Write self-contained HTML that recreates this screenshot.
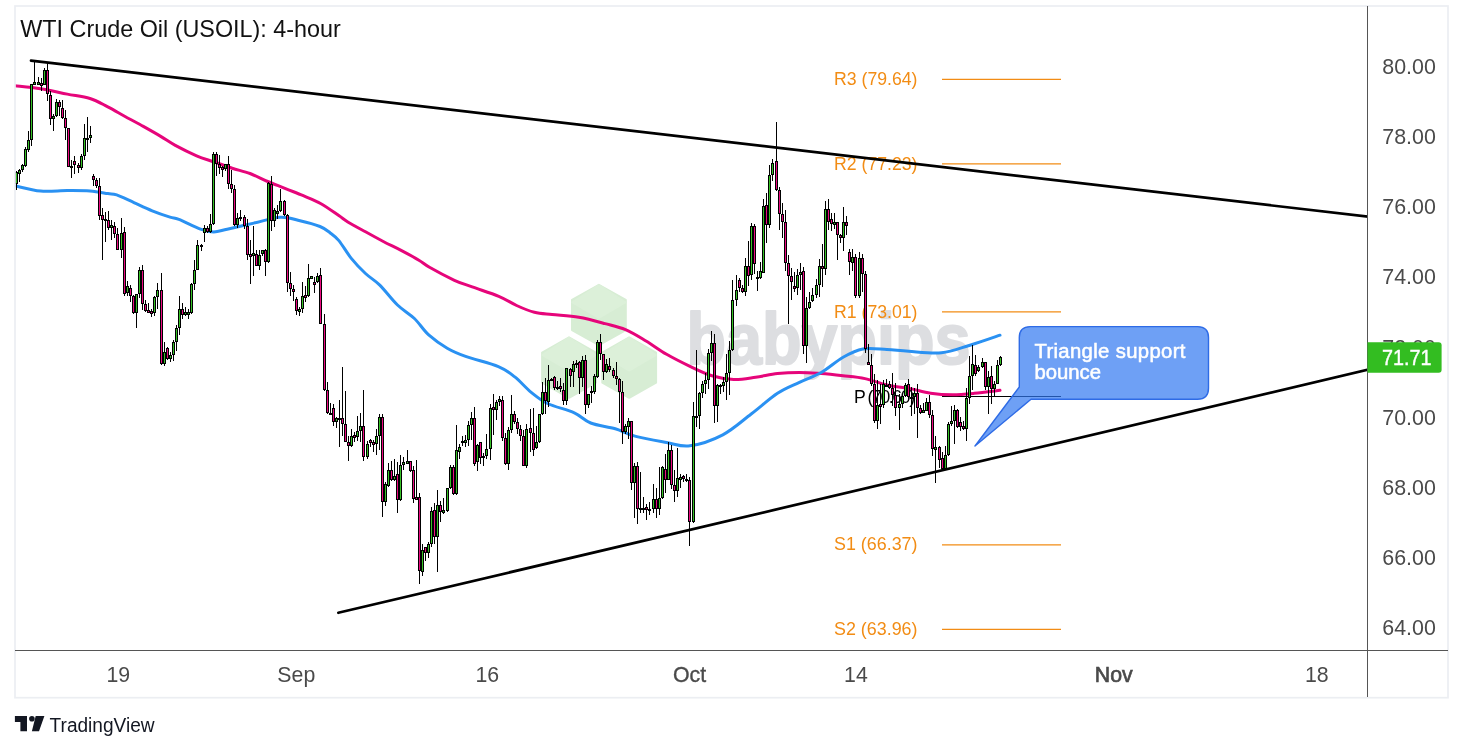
<!DOCTYPE html><html><head><meta charset="utf-8"><title>WTI Crude Oil</title>
<style>html,body{margin:0;padding:0;background:#fff;width:1463px;height:751px;overflow:hidden}svg{display:block;will-change:transform}text{font-family:"Liberation Sans",sans-serif}</style></head><body>
<svg width="1463" height="751" viewBox="0 0 1463 751">
<rect x="0" y="0" width="1463" height="751" fill="#fff"/>
<defs><clipPath id="pane"><rect x="15" y="6" width="1352.5" height="644.5"/></clipPath></defs>
<g>
<path d="M598.9,284.8 L625.8,299.9 L625.8,330.1 L598.9,345.2 L572.0,330.1 L572.0,299.9 Z" fill="#D7EDD4" stroke="#D7EDD4" stroke-width="2" stroke-linejoin="round"/>
<path d="M598.9,284.8 L625.8,302.4 L598.9,318.2 L572.0,302.4 Z" fill="#DCF0D9" stroke="#DCF0D9" stroke-width="1.5" stroke-linejoin="round"/>
<path d="M569.0,337.4 L595.9,352.5 L595.9,382.7 L569.0,397.8 L542.1,382.7 L542.1,352.5 Z" fill="#D7EDD4" stroke="#D7EDD4" stroke-width="2" stroke-linejoin="round"/>
<path d="M569.0,337.4 L595.9,355.0 L569.0,370.8 L542.1,355.0 Z" fill="#DCF0D9" stroke="#DCF0D9" stroke-width="1.5" stroke-linejoin="round"/>
<path d="M629.2,337.4 L656.1,352.5 L656.1,382.7 L629.2,397.8 L602.3,382.7 L602.3,352.5 Z" fill="#D7EDD4" stroke="#D7EDD4" stroke-width="2" stroke-linejoin="round"/>
<path d="M629.2,337.4 L656.1,355.0 L629.2,370.8 L602.3,355.0 Z" fill="#DCF0D9" stroke="#DCF0D9" stroke-width="1.5" stroke-linejoin="round"/>
</g>
<text x="686.5" y="364.3" font-size="72.5" font-weight="700" fill="#DDDEE1" stroke="#DDDEE1" stroke-width="2" stroke-linejoin="round" textLength="284" lengthAdjust="spacingAndGlyphs">babypips</text>
<text x="20.3" y="36.8" font-size="24.3" fill="#111" textLength="320.5" lengthAdjust="spacingAndGlyphs">WTI Crude Oil (USOIL): 4-hour</text>
<line x1="942" y1="79.4" x2="1061" y2="79.4" stroke="#F28C14" stroke-width="1.2"/>
<text x="834" y="85.0" font-size="17.8" fill="#F28C14" textLength="83.5" lengthAdjust="spacingAndGlyphs">R3 (79.64)</text>
<line x1="942" y1="163.9" x2="1061" y2="163.9" stroke="#F28C14" stroke-width="1.2"/>
<text x="834" y="169.5" font-size="17.8" fill="#F28C14" textLength="83.5" lengthAdjust="spacingAndGlyphs">R2 (77.23)</text>
<line x1="942" y1="311.9" x2="1061" y2="311.9" stroke="#F28C14" stroke-width="1.2"/>
<text x="834" y="317.5" font-size="17.8" fill="#F28C14" textLength="83.5" lengthAdjust="spacingAndGlyphs">R1 (73.01)</text>
<line x1="942" y1="396.5" x2="1061" y2="396.5" stroke="#000" stroke-width="1.2"/>
<text x="854" y="402.7" font-size="17.6" fill="#000" textLength="61" lengthAdjust="spacing">P (70.60)</text>
<line x1="942" y1="544.8" x2="1061" y2="544.8" stroke="#F28C14" stroke-width="1.2"/>
<text x="834" y="550.4" font-size="17.8" fill="#F28C14" textLength="83.5" lengthAdjust="spacingAndGlyphs">S1 (66.37)</text>
<line x1="942" y1="629.3" x2="1061" y2="629.3" stroke="#F28C14" stroke-width="1.2"/>
<text x="834" y="634.9" font-size="17.8" fill="#F28C14" textLength="83.5" lengthAdjust="spacingAndGlyphs">S2 (63.96)</text>
<g clip-path="url(#pane)" fill="none" stroke-linecap="round" stroke-linejoin="round">
<path d="M15.0,85.8 C19.3,86.3 31.9,87.4 40.6,88.8 C49.3,90.2 59.1,92.5 67.3,94.1 C75.5,95.7 83.2,96.4 90.0,98.5 C96.8,100.6 101.9,103.9 107.8,106.9 C113.7,109.9 119.6,113.5 125.5,116.7 C131.4,120.0 137.4,123.1 143.3,126.4 C149.2,129.7 155.8,133.4 161.1,136.6 C166.4,139.8 169.4,142.2 175.3,145.4 C181.2,148.6 190.1,153.0 196.6,155.8 C203.1,158.6 208.5,159.9 214.4,162.0 C220.3,164.1 226.3,166.3 232.2,168.2 C238.1,170.1 244.1,171.3 250.0,173.5 C255.9,175.7 261.8,179.0 267.7,181.5 C273.6,184.0 279.6,186.2 285.5,188.6 C291.4,191.0 297.4,193.2 303.3,195.7 C309.2,198.2 315.1,200.4 321.0,203.7 C326.9,207.0 334.3,212.5 338.8,215.6 C343.3,218.7 343.4,219.3 347.8,222.0 C352.2,224.7 359.6,228.6 365.5,231.8 C371.4,235.1 377.4,238.4 383.3,241.5 C389.2,244.6 395.2,247.3 401.1,250.4 C407.0,253.5 414.2,257.4 418.9,260.2 C423.6,263.0 423.6,263.9 429.5,267.3 C435.4,270.7 447.3,277.0 454.4,280.3 C461.5,283.6 464.8,284.2 472.2,286.9 C479.6,289.6 491.4,293.2 498.8,296.3 C506.2,299.4 510.7,302.8 516.6,305.5 C522.5,308.2 528.5,310.8 534.4,312.3 C540.3,313.8 544.7,313.8 552.1,314.6 C559.5,315.4 570.0,315.8 578.8,317.3 C587.6,318.8 597.2,321.5 605.0,323.6 C612.8,325.7 618.7,326.8 625.5,329.7 C632.3,332.6 639.1,336.9 646.0,341.0 C652.9,345.1 659.3,350.1 666.6,354.3 C673.9,358.5 682.5,362.8 690.0,366.4 C697.5,370.0 704.6,373.6 711.9,375.8 C719.2,378.0 726.4,379.2 733.7,379.5 C741.0,379.8 748.3,378.3 755.6,377.3 C762.9,376.3 770.2,374.4 777.5,373.6 C784.8,372.8 792.1,372.5 799.4,372.5 C806.7,372.5 813.9,373.1 821.2,373.6 C828.5,374.2 835.8,375.0 843.1,375.8 C850.4,376.6 857.7,377.1 865.0,378.6 C872.3,380.1 879.6,383.4 886.9,385.0 C894.2,386.6 901.4,387.0 908.7,388.4 C916.0,389.8 923.3,392.1 930.6,393.2 C937.9,394.3 945.2,394.8 952.5,394.8 C959.8,394.8 966.4,394.1 974.3,393.3 C982.2,392.6 995.7,390.8 1000.0,390.3" stroke="#E6057A" stroke-width="3"/>
<path d="M15.0,185.8 C19.3,186.7 31.9,190.3 40.6,191.1 C49.3,191.9 59.1,190.6 67.3,190.6 C75.5,190.6 83.2,190.5 90.0,191.0 C96.8,191.5 103.3,192.9 107.8,193.6 C112.2,194.2 112.3,193.4 116.7,194.9 C121.1,196.4 128.5,200.2 134.4,202.8 C140.3,205.5 146.3,208.4 152.2,210.8 C158.1,213.2 165.6,215.7 170.0,217.1 C174.4,218.5 173.8,217.4 178.9,219.4 C184.0,221.4 194.7,227.1 200.5,229.2 C206.3,231.3 209.4,231.9 213.8,231.9 C218.2,231.9 220.5,230.7 227.2,229.2 C233.9,227.7 244.9,225.1 253.8,223.1 C262.7,221.1 272.8,217.6 280.5,217.2 C288.2,216.8 293.4,219.1 300.0,220.7 C306.6,222.2 315.0,224.5 320.0,226.5 C325.0,228.5 326.9,230.3 330.0,232.7 C333.1,235.0 335.3,236.3 338.9,240.6 C342.4,244.9 346.9,252.9 351.3,258.4 C355.7,263.9 360.8,269.1 365.5,273.5 C370.2,277.9 374.5,279.9 379.8,285.1 C385.1,290.4 391.7,299.4 397.5,305.0 C403.3,310.6 409.2,313.5 414.4,318.5 C419.6,323.5 423.2,329.9 428.7,334.9 C434.2,339.8 441.0,344.6 447.2,348.2 C453.4,351.8 457.1,353.3 465.6,356.4 C474.1,359.5 490.2,363.2 498.4,366.6 C506.6,370.0 509.3,372.6 514.8,376.9 C520.3,381.2 525.7,387.9 531.2,392.3 C536.7,396.7 540.4,400.1 547.6,403.5 C554.8,406.9 567.1,409.6 574.3,412.8 C581.5,416.1 583.9,420.3 590.7,423.0 C597.5,425.7 607.8,426.6 615.3,428.8 C622.8,431.0 627.2,434.1 635.8,436.4 C644.3,438.7 657.6,440.9 666.6,442.5 C675.6,444.1 680.6,447.1 690.0,445.8 C699.4,444.5 712.6,440.1 722.8,434.8 C733.0,429.5 742.1,420.9 751.2,414.0 C760.3,407.1 769.5,398.6 777.5,393.3 C785.5,388.0 792.1,385.8 799.4,382.3 C806.7,378.8 813.9,376.7 821.2,372.5 C828.5,368.3 836.2,361.1 843.1,357.2 C850.0,353.3 855.5,350.2 862.8,348.9 C870.1,347.6 879.2,349.1 886.9,349.5 C894.5,349.9 899.6,350.8 908.7,351.3 C917.8,351.9 931.3,353.8 941.5,352.8 C951.7,351.8 960.2,348.1 970.0,345.2 C979.8,342.3 995.0,336.9 1000.0,335.2" stroke="#2A91F2" stroke-width="3"/>
</g>
<g shape-rendering="crispEdges">
<path d="M16.5,171V190M19.5,169V182M22.5,164V172M25.5,147V167M28.5,131V152M31.5,84V146M34.5,62V85M38.5,77V85M41.5,78V91M44.5,68V85M47.5,63V101M50.5,91V125M53.5,114V131M56.5,99V117M59.5,100V116M62.5,100V119M65.5,110V140M68.5,128V167M71.5,160V178M74.5,156V174M78.5,163V173M81.5,154V170M84.5,124V160M87.5,117V152M90.5,126V143M93.5,174V186M96.5,178V188M99.5,178V220M102.5,208V260M105.5,212V242M108.5,211V230M111.5,220V240M114.5,222V238M117.5,228V250M121.5,218V258M124.5,227V296M127.5,281V296M130.5,285V302M133.5,295V314M136.5,294V328M139.5,267V298M142.5,265V310M145.5,300V312M148.5,303V313M151.5,309V317M154.5,296V316M157.5,283V309M161.5,273V365M164.5,342V366M167.5,347V360M170.5,352V362M173.5,340V361M176.5,325V351M179.5,296V335M182.5,303V319M185.5,307V316M188.5,309V319M191.5,283V314M194.5,260V290M197.5,240V270M201.5,244V251M204.5,225V242M207.5,226V233M210.5,214V233M213.5,152V225M216.5,152V176M219.5,155V174M222.5,166V177M225.5,164V171M228.5,156V189M231.5,170V193M234.5,185V226M237.5,213V228M240.5,210V221M244.5,215V229M247.5,219V260M250.5,240V284M253.5,226V276M256.5,250V266M259.5,250V270M262.5,250V256M265.5,249V276M268.5,182V263M271.5,176V231M274.5,208V227M277.5,205V219M280.5,189V212M284.5,200V216M287.5,214V292M290.5,272V296M293.5,285V301M296.5,297V315M299.5,307V316M302.5,282V313M305.5,286V302M308.5,264V297M311.5,276V279M314.5,277V293M317.5,273V283M320.5,268V324M324.5,314V391M327.5,382V414M330.5,403V414M333.5,404V426M336.5,417V428M339.5,400V447M342.5,367V436M345.5,391V442M348.5,436V461M351.5,429V447M354.5,432V442M357.5,416V441M360.5,413V442M363.5,390V461M367.5,441V459M370.5,439V447M373.5,440V452M376.5,429V455M379.5,414V450M382.5,414V517M385.5,482V506M388.5,463V487M391.5,461V481M394.5,459V481M397.5,462V513M400.5,455V501M403.5,457V470M407.5,450V464M410.5,461V472M413.5,466V503M416.5,460V500M419.5,493V584M422.5,544V576M425.5,547V561M428.5,542V558M431.5,507V547M434.5,503V544M437.5,490V572M440.5,501V522M443.5,498V514M447.5,488V512M450.5,465V489M453.5,465V495M456.5,425V495M459.5,444V459M462.5,436V446M465.5,435V447M468.5,421V446M471.5,412V440M474.5,407V466M477.5,444V471M480.5,442V464M483.5,453V466M486.5,434V459M490.5,404V460M493.5,394V435M496.5,400V420M499.5,396V406M502.5,396V441M505.5,433V465M508.5,427V470M511.5,395V433M514.5,411V424M517.5,418V434M520.5,425V441M523.5,430V466M526.5,424V468M530.5,409V452M533.5,408V456M536.5,426V449M539.5,414V443M542.5,382V415M545.5,378V414M548.5,365V407M551.5,378V381M554.5,376V390M557.5,381V390M560.5,378V392M563.5,383V405M566.5,368V405M570.5,368V387M573.5,361V387M576.5,360V368M579.5,361V394M582.5,356V387M585.5,355V414M588.5,394V408M591.5,386V403M594.5,374V394M597.5,340V378M600.5,334V360M603.5,354V380M606.5,359V373M609.5,358V372M613.5,368V378M616.5,362V385M619.5,378V423M622.5,381V444M625.5,424V434M628.5,418V439M631.5,421V490M634.5,463V518M637.5,462V524M640.5,472V513M643.5,497V513M646.5,504V520M649.5,502V515M653.5,484V513M656.5,488V518M659.5,467V515M662.5,466V499M665.5,454V493M668.5,442V480M671.5,445V489M674.5,470V502M677.5,448V497M680.5,474V488M683.5,475V482M686.5,474V482M689.5,477V546M693.5,402V523M696.5,350V427M699.5,392V429M702.5,381V398M705.5,373V394M708.5,349V389M711.5,331V361M714.5,334V423M717.5,384V422M720.5,384V394M723.5,377V392M726.5,354V400M729.5,341V395M732.5,280V351M736.5,275V306M739.5,278V292M742.5,285V293M745.5,258V296M748.5,241V286M751.5,223V280M754.5,224V274M757.5,271V291M760.5,262V279M763.5,199V273M766.5,193V243M769.5,165V228M772.5,159V181M776.5,122V191M779.5,187V230M782.5,203V238M785.5,210V271M788.5,255V324M791.5,268V300M794.5,272V292M797.5,269V295M800.5,263V290M803.5,267V354M806.5,297V363M809.5,292V309M812.5,288V302M816.5,279V298M819.5,259V297M822.5,244V287M825.5,201V275M828.5,199V230M831.5,213V231M834.5,213V229M837.5,222V260M840.5,234V243M843.5,207V251M846.5,216V235M849.5,249V275M852.5,249V271M855.5,254V298M859.5,252V298M862.5,254V292M865.5,271V353M868.5,344V365M871.5,354V386M874.5,374V423M877.5,380V429M880.5,384V424M883.5,380V408M886.5,379V387M889.5,381V389M892.5,373V406M895.5,383V416M899.5,394V430M902.5,395V408M905.5,383V397M908.5,379V399M911.5,387V416M914.5,388V414M917.5,384V438M920.5,405V414M923.5,403V412M926.5,398V411M929.5,395V418M932.5,410V456M935.5,436V483M939.5,446V468M942.5,452V471M945.5,446V470M948.5,422V456M951.5,406V426M954.5,405V444M957.5,409V428M960.5,417V431M963.5,421V430M966.5,388V441M969.5,356V404M972.5,345V390M975.5,355V376M978.5,365V372M982.5,358V368M985.5,362V390M988.5,371V414M991.5,366V404M994.5,381V396M997.5,360V384M1000.5,356V366" stroke="#000" stroke-width="1" fill="none"/>
<g fill="#000"><rect x="15" y="172" width="3" height="12"/><rect x="18" y="170" width="3" height="4"/><rect x="21" y="165" width="3" height="5"/><rect x="24" y="149" width="3" height="17"/><rect x="27" y="140" width="3" height="10"/><rect x="30" y="84" width="3" height="56"/><rect x="33" y="82" width="3" height="3"/><rect x="37" y="82" width="3" height="3"/><rect x="40" y="83" width="3" height="3"/><rect x="43" y="70" width="3" height="15"/><rect x="46" y="70" width="3" height="24"/><rect x="49" y="95" width="3" height="24"/><rect x="52" y="116" width="3" height="3"/><rect x="55" y="102" width="3" height="14"/><rect x="58" y="102" width="3" height="5"/><rect x="61" y="108" width="3" height="10"/><rect x="64" y="118" width="3" height="10"/><rect x="67" y="128" width="3" height="39"/><rect x="70" y="166" width="3" height="2"/><rect x="73" y="161" width="3" height="4"/><rect x="77" y="165" width="3" height="3"/><rect x="80" y="156" width="3" height="12"/><rect x="83" y="138" width="3" height="18"/><rect x="86" y="138" width="3" height="2"/><rect x="89" y="135" width="3" height="3"/><rect x="92" y="176" width="3" height="4"/><rect x="95" y="180" width="3" height="6"/><rect x="98" y="186" width="3" height="30"/><rect x="101" y="215" width="3" height="5"/><rect x="104" y="219" width="3" height="2"/><rect x="107" y="220" width="3" height="8"/><rect x="110" y="225" width="3" height="3"/><rect x="113" y="226" width="3" height="8"/><rect x="116" y="234" width="3" height="16"/><rect x="120" y="233" width="3" height="17"/><rect x="123" y="232" width="3" height="62"/><rect x="126" y="286" width="3" height="7"/><rect x="129" y="288" width="3" height="8"/><rect x="132" y="296" width="3" height="17"/><rect x="135" y="294" width="3" height="19"/><rect x="138" y="270" width="3" height="24"/><rect x="141" y="270" width="3" height="34"/><rect x="144" y="304" width="3" height="7"/><rect x="147" y="310" width="3" height="3"/><rect x="150" y="311" width="3" height="3"/><rect x="153" y="297" width="3" height="16"/><rect x="156" y="290" width="3" height="7"/><rect x="160" y="290" width="3" height="74"/><rect x="163" y="352" width="3" height="12"/><rect x="166" y="348" width="3" height="11"/><rect x="169" y="355" width="3" height="4"/><rect x="172" y="342" width="3" height="13"/><rect x="175" y="328" width="3" height="14"/><rect x="178" y="309" width="3" height="19"/><rect x="181" y="309" width="3" height="6"/><rect x="184" y="312" width="3" height="3"/><rect x="187" y="312" width="3" height="3"/><rect x="190" y="284" width="3" height="29"/><rect x="193" y="270" width="3" height="14"/><rect x="196" y="245" width="3" height="25"/><rect x="200" y="245" width="3" height="2"/><rect x="203" y="228" width="3" height="5"/><rect x="206" y="228" width="3" height="4"/><rect x="209" y="224" width="3" height="8"/><rect x="212" y="154" width="3" height="70"/><rect x="215" y="154" width="3" height="10"/><rect x="218" y="164" width="3" height="4"/><rect x="221" y="167" width="3" height="3"/><rect x="224" y="164" width="3" height="5"/><rect x="227" y="164" width="3" height="20"/><rect x="230" y="184" width="3" height="5"/><rect x="233" y="189" width="3" height="36"/><rect x="236" y="218" width="3" height="7"/><rect x="239" y="217" width="3" height="2"/><rect x="243" y="217" width="3" height="9"/><rect x="246" y="226" width="3" height="29"/><rect x="249" y="254" width="3" height="3"/><rect x="252" y="253" width="3" height="3"/><rect x="255" y="254" width="3" height="12"/><rect x="258" y="255" width="3" height="11"/><rect x="261" y="250" width="3" height="4"/><rect x="264" y="250" width="3" height="12"/><rect x="267" y="183" width="3" height="79"/><rect x="270" y="184" width="3" height="37"/><rect x="273" y="210" width="3" height="11"/><rect x="276" y="211" width="3" height="3"/><rect x="279" y="201" width="3" height="10"/><rect x="283" y="201" width="3" height="14"/><rect x="286" y="215" width="3" height="68"/><rect x="289" y="283" width="3" height="6"/><rect x="292" y="289" width="3" height="3"/><rect x="295" y="299" width="3" height="12"/><rect x="298" y="309" width="3" height="3"/><rect x="301" y="296" width="3" height="13"/><rect x="304" y="295" width="3" height="3"/><rect x="307" y="278" width="3" height="18"/><rect x="310" y="276" width="3" height="3"/><rect x="313" y="282" width="3" height="3"/><rect x="316" y="276" width="3" height="6"/><rect x="319" y="275" width="3" height="49"/><rect x="323" y="324" width="3" height="66"/><rect x="326" y="390" width="3" height="23"/><rect x="329" y="413" width="3" height="2"/><rect x="332" y="408" width="3" height="14"/><rect x="335" y="418" width="3" height="4"/><rect x="338" y="418" width="3" height="2"/><rect x="341" y="418" width="3" height="6"/><rect x="344" y="424" width="3" height="18"/><rect x="347" y="442" width="3" height="4"/><rect x="350" y="436" width="3" height="10"/><rect x="353" y="435" width="3" height="3"/><rect x="356" y="431" width="3" height="6"/><rect x="359" y="426" width="3" height="5"/><rect x="362" y="426" width="3" height="31"/><rect x="366" y="444" width="3" height="13"/><rect x="369" y="440" width="3" height="3"/><rect x="372" y="442" width="3" height="3"/><rect x="375" y="436" width="3" height="8"/><rect x="378" y="417" width="3" height="19"/><rect x="381" y="417" width="3" height="85"/><rect x="384" y="484" width="3" height="18"/><rect x="387" y="470" width="3" height="16"/><rect x="390" y="470" width="3" height="10"/><rect x="393" y="476" width="3" height="4"/><rect x="396" y="474" width="3" height="26"/><rect x="399" y="465" width="3" height="35"/><rect x="402" y="462" width="3" height="3"/><rect x="406" y="461" width="3" height="3"/><rect x="409" y="461" width="3" height="10"/><rect x="412" y="470" width="3" height="29"/><rect x="415" y="497" width="3" height="3"/><rect x="418" y="497" width="3" height="74"/><rect x="421" y="550" width="3" height="22"/><rect x="424" y="547" width="3" height="6"/><rect x="427" y="544" width="3" height="9"/><rect x="430" y="511" width="3" height="33"/><rect x="433" y="510" width="3" height="27"/><rect x="436" y="505" width="3" height="32"/><rect x="439" y="505" width="3" height="7"/><rect x="442" y="510" width="3" height="3"/><rect x="446" y="488" width="3" height="23"/><rect x="449" y="467" width="3" height="21"/><rect x="452" y="467" width="3" height="27"/><rect x="455" y="450" width="3" height="44"/><rect x="458" y="447" width="3" height="5"/><rect x="461" y="441" width="3" height="2"/><rect x="464" y="440" width="3" height="3"/><rect x="467" y="425" width="3" height="15"/><rect x="470" y="418" width="3" height="7"/><rect x="473" y="418" width="3" height="46"/><rect x="476" y="445" width="3" height="17"/><rect x="479" y="442" width="3" height="16"/><rect x="482" y="456" width="3" height="2"/><rect x="485" y="449" width="3" height="7"/><rect x="489" y="408" width="3" height="41"/><rect x="492" y="407" width="3" height="3"/><rect x="495" y="402" width="3" height="8"/><rect x="498" y="399" width="3" height="3"/><rect x="501" y="400" width="3" height="38"/><rect x="504" y="438" width="3" height="26"/><rect x="507" y="430" width="3" height="34"/><rect x="510" y="414" width="3" height="16"/><rect x="513" y="414" width="3" height="8"/><rect x="516" y="422" width="3" height="7"/><rect x="519" y="429" width="3" height="7"/><rect x="522" y="436" width="3" height="30"/><rect x="525" y="429" width="3" height="37"/><rect x="529" y="428" width="3" height="5"/><rect x="532" y="433" width="3" height="17"/><rect x="535" y="442" width="3" height="6"/><rect x="538" y="414" width="3" height="28"/><rect x="541" y="392" width="3" height="22"/><rect x="544" y="392" width="3" height="9"/><rect x="547" y="380" width="3" height="22"/><rect x="550" y="379" width="3" height="2"/><rect x="553" y="377" width="3" height="11"/><rect x="556" y="387" width="3" height="2"/><rect x="559" y="386" width="3" height="3"/><rect x="562" y="390" width="3" height="11"/><rect x="565" y="368" width="3" height="33"/><rect x="569" y="369" width="3" height="7"/><rect x="572" y="364" width="3" height="8"/><rect x="575" y="363" width="3" height="2"/><rect x="578" y="362" width="3" height="16"/><rect x="581" y="360" width="3" height="18"/><rect x="584" y="360" width="3" height="45"/><rect x="587" y="394" width="3" height="11"/><rect x="590" y="391" width="3" height="2"/><rect x="593" y="376" width="3" height="16"/><rect x="596" y="342" width="3" height="35"/><rect x="599" y="342" width="3" height="12"/><rect x="602" y="354" width="3" height="18"/><rect x="605" y="364" width="3" height="8"/><rect x="608" y="366" width="3" height="4"/><rect x="612" y="370" width="3" height="6"/><rect x="615" y="376" width="3" height="3"/><rect x="618" y="379" width="3" height="13"/><rect x="621" y="392" width="3" height="40"/><rect x="624" y="426" width="3" height="6"/><rect x="627" y="421" width="3" height="6"/><rect x="630" y="421" width="3" height="62"/><rect x="633" y="466" width="3" height="17"/><rect x="636" y="466" width="3" height="43"/><rect x="639" y="508" width="3" height="2"/><rect x="642" y="508" width="3" height="2"/><rect x="645" y="507" width="3" height="3"/><rect x="648" y="509" width="3" height="2"/><rect x="652" y="499" width="3" height="10"/><rect x="655" y="499" width="3" height="10"/><rect x="658" y="498" width="3" height="11"/><rect x="661" y="467" width="3" height="31"/><rect x="664" y="469" width="3" height="11"/><rect x="667" y="450" width="3" height="30"/><rect x="670" y="450" width="3" height="35"/><rect x="673" y="485" width="3" height="6"/><rect x="676" y="478" width="3" height="13"/><rect x="679" y="477" width="3" height="3"/><rect x="682" y="476" width="3" height="3"/><rect x="685" y="479" width="3" height="2"/><rect x="688" y="480" width="3" height="42"/><rect x="692" y="416" width="3" height="106"/><rect x="695" y="416" width="3" height="2"/><rect x="698" y="393" width="3" height="23"/><rect x="701" y="384" width="3" height="9"/><rect x="704" y="380" width="3" height="4"/><rect x="707" y="353" width="3" height="27"/><rect x="710" y="343" width="3" height="10"/><rect x="713" y="343" width="3" height="63"/><rect x="716" y="385" width="3" height="21"/><rect x="719" y="385" width="3" height="2"/><rect x="722" y="382" width="3" height="4"/><rect x="725" y="373" width="3" height="9"/><rect x="728" y="350" width="3" height="23"/><rect x="731" y="300" width="3" height="50"/><rect x="735" y="290" width="3" height="10"/><rect x="738" y="280" width="3" height="8"/><rect x="741" y="288" width="3" height="4"/><rect x="744" y="266" width="3" height="26"/><rect x="747" y="266" width="3" height="10"/><rect x="750" y="226" width="3" height="49"/><rect x="753" y="226" width="3" height="38"/><rect x="756" y="277" width="3" height="2"/><rect x="759" y="271" width="3" height="7"/><rect x="762" y="206" width="3" height="67"/><rect x="765" y="205" width="3" height="20"/><rect x="768" y="175" width="3" height="50"/><rect x="771" y="163" width="3" height="12"/><rect x="775" y="161" width="3" height="29"/><rect x="778" y="190" width="3" height="24"/><rect x="781" y="214" width="3" height="8"/><rect x="784" y="222" width="3" height="41"/><rect x="787" y="263" width="3" height="13"/><rect x="790" y="276" width="3" height="6"/><rect x="793" y="286" width="3" height="3"/><rect x="796" y="275" width="3" height="13"/><rect x="799" y="272" width="3" height="3"/><rect x="802" y="271" width="3" height="75"/><rect x="805" y="308" width="3" height="38"/><rect x="808" y="302" width="3" height="6"/><rect x="811" y="295" width="3" height="6"/><rect x="815" y="285" width="3" height="10"/><rect x="818" y="266" width="3" height="19"/><rect x="821" y="266" width="3" height="3"/><rect x="824" y="209" width="3" height="60"/><rect x="827" y="209" width="3" height="13"/><rect x="830" y="219" width="3" height="5"/><rect x="833" y="222" width="3" height="3"/><rect x="836" y="222" width="3" height="13"/><rect x="839" y="235" width="3" height="3"/><rect x="842" y="222" width="3" height="16"/><rect x="845" y="222" width="3" height="4"/><rect x="848" y="252" width="3" height="10"/><rect x="851" y="257" width="3" height="6"/><rect x="854" y="257" width="3" height="39"/><rect x="858" y="258" width="3" height="38"/><rect x="861" y="258" width="3" height="16"/><rect x="864" y="274" width="3" height="75"/><rect x="867" y="362" width="3" height="3"/><rect x="870" y="365" width="3" height="19"/><rect x="873" y="384" width="3" height="37"/><rect x="876" y="405" width="3" height="16"/><rect x="879" y="404" width="3" height="3"/><rect x="882" y="384" width="3" height="21"/><rect x="885" y="385" width="3" height="2"/><rect x="888" y="384" width="3" height="4"/><rect x="891" y="388" width="3" height="7"/><rect x="894" y="395" width="3" height="13"/><rect x="898" y="404" width="3" height="4"/><rect x="901" y="396" width="3" height="8"/><rect x="904" y="385" width="3" height="11"/><rect x="907" y="384" width="3" height="13"/><rect x="910" y="397" width="3" height="2"/><rect x="913" y="393" width="3" height="4"/><rect x="916" y="393" width="3" height="15"/><rect x="919" y="408" width="3" height="5"/><rect x="922" y="410" width="3" height="3"/><rect x="925" y="402" width="3" height="9"/><rect x="928" y="402" width="3" height="13"/><rect x="931" y="415" width="3" height="34"/><rect x="934" y="447" width="3" height="3"/><rect x="938" y="447" width="3" height="13"/><rect x="941" y="458" width="3" height="11"/><rect x="944" y="455" width="3" height="14"/><rect x="947" y="424" width="3" height="31"/><rect x="950" y="421" width="3" height="3"/><rect x="953" y="410" width="3" height="11"/><rect x="956" y="410" width="3" height="17"/><rect x="959" y="422" width="3" height="5"/><rect x="962" y="426" width="3" height="3"/><rect x="965" y="398" width="3" height="31"/><rect x="968" y="376" width="3" height="22"/><rect x="971" y="364" width="3" height="12"/><rect x="974" y="365" width="3" height="9"/><rect x="977" y="367" width="3" height="4"/><rect x="981" y="362" width="3" height="5"/><rect x="984" y="362" width="3" height="25"/><rect x="987" y="377" width="3" height="10"/><rect x="990" y="376" width="3" height="13"/><rect x="993" y="384" width="3" height="5"/><rect x="996" y="365" width="3" height="19"/><rect x="999" y="357" width="3" height="8"/></g>
<g><rect x="16" y="173" width="1" height="10" fill="#36C226"/><rect x="19" y="171" width="1" height="2" fill="#36C226"/><rect x="22" y="166" width="1" height="3" fill="#36C226"/><rect x="25" y="150" width="1" height="15" fill="#36C226"/><rect x="28" y="141" width="1" height="8" fill="#36C226"/><rect x="31" y="85" width="1" height="54" fill="#36C226"/><rect x="34" y="83" width="1" height="1" fill="#36C226"/><rect x="38" y="83" width="1" height="1" fill="#36C226"/><rect x="41" y="84" width="1" height="1" fill="#EC0A82"/><rect x="44" y="71" width="1" height="13" fill="#36C226"/><rect x="47" y="71" width="1" height="22" fill="#EC0A82"/><rect x="50" y="96" width="1" height="22" fill="#EC0A82"/><rect x="53" y="117" width="1" height="1" fill="#36C226"/><rect x="56" y="103" width="1" height="12" fill="#36C226"/><rect x="59" y="103" width="1" height="3" fill="#EC0A82"/><rect x="62" y="109" width="1" height="8" fill="#EC0A82"/><rect x="65" y="119" width="1" height="8" fill="#EC0A82"/><rect x="68" y="129" width="1" height="37" fill="#EC0A82"/><rect x="74" y="162" width="1" height="2" fill="#EC0A82"/><rect x="78" y="166" width="1" height="1" fill="#EC0A82"/><rect x="81" y="157" width="1" height="10" fill="#36C226"/><rect x="84" y="139" width="1" height="16" fill="#36C226"/><rect x="90" y="136" width="1" height="1" fill="#36C226"/><rect x="93" y="177" width="1" height="2" fill="#EC0A82"/><rect x="96" y="181" width="1" height="4" fill="#EC0A82"/><rect x="99" y="187" width="1" height="28" fill="#EC0A82"/><rect x="102" y="216" width="1" height="3" fill="#EC0A82"/><rect x="108" y="221" width="1" height="6" fill="#EC0A82"/><rect x="111" y="226" width="1" height="1" fill="#36C226"/><rect x="114" y="227" width="1" height="6" fill="#EC0A82"/><rect x="117" y="235" width="1" height="14" fill="#EC0A82"/><rect x="121" y="234" width="1" height="15" fill="#36C226"/><rect x="124" y="233" width="1" height="60" fill="#EC0A82"/><rect x="127" y="287" width="1" height="5" fill="#36C226"/><rect x="130" y="289" width="1" height="6" fill="#EC0A82"/><rect x="133" y="297" width="1" height="15" fill="#EC0A82"/><rect x="136" y="295" width="1" height="17" fill="#36C226"/><rect x="139" y="271" width="1" height="22" fill="#36C226"/><rect x="142" y="271" width="1" height="32" fill="#EC0A82"/><rect x="145" y="305" width="1" height="5" fill="#EC0A82"/><rect x="148" y="311" width="1" height="1" fill="#EC0A82"/><rect x="151" y="312" width="1" height="1" fill="#EC0A82"/><rect x="154" y="298" width="1" height="14" fill="#36C226"/><rect x="157" y="291" width="1" height="5" fill="#36C226"/><rect x="161" y="291" width="1" height="72" fill="#EC0A82"/><rect x="164" y="353" width="1" height="10" fill="#36C226"/><rect x="167" y="349" width="1" height="9" fill="#EC0A82"/><rect x="170" y="356" width="1" height="2" fill="#36C226"/><rect x="173" y="343" width="1" height="11" fill="#36C226"/><rect x="176" y="329" width="1" height="12" fill="#36C226"/><rect x="179" y="310" width="1" height="17" fill="#36C226"/><rect x="182" y="310" width="1" height="4" fill="#EC0A82"/><rect x="185" y="313" width="1" height="1" fill="#36C226"/><rect x="188" y="313" width="1" height="1" fill="#36C226"/><rect x="191" y="285" width="1" height="27" fill="#36C226"/><rect x="194" y="271" width="1" height="12" fill="#36C226"/><rect x="197" y="246" width="1" height="23" fill="#36C226"/><rect x="204" y="229" width="1" height="3" fill="#36C226"/><rect x="207" y="229" width="1" height="2" fill="#EC0A82"/><rect x="210" y="225" width="1" height="6" fill="#36C226"/><rect x="213" y="155" width="1" height="68" fill="#36C226"/><rect x="216" y="155" width="1" height="8" fill="#EC0A82"/><rect x="219" y="165" width="1" height="2" fill="#EC0A82"/><rect x="222" y="168" width="1" height="1" fill="#EC0A82"/><rect x="225" y="165" width="1" height="3" fill="#36C226"/><rect x="228" y="165" width="1" height="18" fill="#EC0A82"/><rect x="231" y="185" width="1" height="3" fill="#EC0A82"/><rect x="234" y="190" width="1" height="34" fill="#EC0A82"/><rect x="237" y="219" width="1" height="5" fill="#36C226"/><rect x="244" y="218" width="1" height="7" fill="#EC0A82"/><rect x="247" y="227" width="1" height="27" fill="#EC0A82"/><rect x="250" y="255" width="1" height="1" fill="#EC0A82"/><rect x="253" y="254" width="1" height="1" fill="#36C226"/><rect x="256" y="255" width="1" height="10" fill="#EC0A82"/><rect x="259" y="256" width="1" height="9" fill="#36C226"/><rect x="262" y="251" width="1" height="2" fill="#36C226"/><rect x="265" y="251" width="1" height="10" fill="#EC0A82"/><rect x="268" y="184" width="1" height="77" fill="#36C226"/><rect x="271" y="185" width="1" height="35" fill="#EC0A82"/><rect x="274" y="211" width="1" height="9" fill="#36C226"/><rect x="277" y="212" width="1" height="1" fill="#36C226"/><rect x="280" y="202" width="1" height="8" fill="#36C226"/><rect x="284" y="202" width="1" height="12" fill="#EC0A82"/><rect x="287" y="216" width="1" height="66" fill="#EC0A82"/><rect x="290" y="284" width="1" height="4" fill="#EC0A82"/><rect x="293" y="290" width="1" height="1" fill="#EC0A82"/><rect x="296" y="300" width="1" height="10" fill="#EC0A82"/><rect x="299" y="310" width="1" height="1" fill="#36C226"/><rect x="302" y="297" width="1" height="11" fill="#36C226"/><rect x="305" y="296" width="1" height="1" fill="#EC0A82"/><rect x="308" y="279" width="1" height="16" fill="#36C226"/><rect x="311" y="277" width="1" height="1" fill="#36C226"/><rect x="314" y="283" width="1" height="1" fill="#EC0A82"/><rect x="317" y="277" width="1" height="4" fill="#36C226"/><rect x="320" y="276" width="1" height="47" fill="#EC0A82"/><rect x="324" y="325" width="1" height="64" fill="#EC0A82"/><rect x="327" y="391" width="1" height="21" fill="#EC0A82"/><rect x="333" y="409" width="1" height="12" fill="#EC0A82"/><rect x="336" y="419" width="1" height="2" fill="#36C226"/><rect x="342" y="419" width="1" height="4" fill="#EC0A82"/><rect x="345" y="425" width="1" height="16" fill="#EC0A82"/><rect x="348" y="443" width="1" height="2" fill="#EC0A82"/><rect x="351" y="437" width="1" height="8" fill="#36C226"/><rect x="354" y="436" width="1" height="1" fill="#EC0A82"/><rect x="357" y="432" width="1" height="4" fill="#36C226"/><rect x="360" y="427" width="1" height="3" fill="#36C226"/><rect x="363" y="427" width="1" height="29" fill="#EC0A82"/><rect x="367" y="445" width="1" height="11" fill="#36C226"/><rect x="370" y="441" width="1" height="1" fill="#EC0A82"/><rect x="373" y="443" width="1" height="1" fill="#EC0A82"/><rect x="376" y="437" width="1" height="6" fill="#36C226"/><rect x="379" y="418" width="1" height="17" fill="#36C226"/><rect x="382" y="418" width="1" height="83" fill="#EC0A82"/><rect x="385" y="485" width="1" height="16" fill="#36C226"/><rect x="388" y="471" width="1" height="14" fill="#36C226"/><rect x="391" y="471" width="1" height="8" fill="#EC0A82"/><rect x="394" y="477" width="1" height="2" fill="#36C226"/><rect x="397" y="475" width="1" height="24" fill="#EC0A82"/><rect x="400" y="466" width="1" height="33" fill="#36C226"/><rect x="403" y="463" width="1" height="1" fill="#36C226"/><rect x="407" y="462" width="1" height="1" fill="#36C226"/><rect x="410" y="462" width="1" height="8" fill="#EC0A82"/><rect x="413" y="471" width="1" height="27" fill="#EC0A82"/><rect x="416" y="498" width="1" height="1" fill="#EC0A82"/><rect x="419" y="498" width="1" height="72" fill="#EC0A82"/><rect x="422" y="551" width="1" height="20" fill="#36C226"/><rect x="425" y="548" width="1" height="4" fill="#EC0A82"/><rect x="428" y="545" width="1" height="7" fill="#36C226"/><rect x="431" y="512" width="1" height="31" fill="#36C226"/><rect x="434" y="511" width="1" height="25" fill="#EC0A82"/><rect x="437" y="506" width="1" height="30" fill="#36C226"/><rect x="440" y="506" width="1" height="5" fill="#EC0A82"/><rect x="443" y="511" width="1" height="1" fill="#36C226"/><rect x="447" y="489" width="1" height="21" fill="#36C226"/><rect x="450" y="468" width="1" height="19" fill="#36C226"/><rect x="453" y="468" width="1" height="25" fill="#EC0A82"/><rect x="456" y="451" width="1" height="42" fill="#36C226"/><rect x="459" y="448" width="1" height="3" fill="#36C226"/><rect x="465" y="441" width="1" height="1" fill="#36C226"/><rect x="468" y="426" width="1" height="13" fill="#36C226"/><rect x="471" y="419" width="1" height="5" fill="#36C226"/><rect x="474" y="419" width="1" height="44" fill="#EC0A82"/><rect x="477" y="446" width="1" height="15" fill="#36C226"/><rect x="480" y="443" width="1" height="14" fill="#EC0A82"/><rect x="486" y="450" width="1" height="5" fill="#36C226"/><rect x="490" y="409" width="1" height="39" fill="#36C226"/><rect x="493" y="408" width="1" height="1" fill="#EC0A82"/><rect x="496" y="403" width="1" height="6" fill="#36C226"/><rect x="499" y="400" width="1" height="1" fill="#36C226"/><rect x="502" y="401" width="1" height="36" fill="#EC0A82"/><rect x="505" y="439" width="1" height="24" fill="#EC0A82"/><rect x="508" y="431" width="1" height="32" fill="#36C226"/><rect x="511" y="415" width="1" height="14" fill="#36C226"/><rect x="514" y="415" width="1" height="6" fill="#EC0A82"/><rect x="517" y="423" width="1" height="5" fill="#EC0A82"/><rect x="520" y="430" width="1" height="5" fill="#EC0A82"/><rect x="523" y="437" width="1" height="28" fill="#EC0A82"/><rect x="526" y="430" width="1" height="35" fill="#36C226"/><rect x="530" y="429" width="1" height="3" fill="#EC0A82"/><rect x="533" y="434" width="1" height="15" fill="#EC0A82"/><rect x="536" y="443" width="1" height="4" fill="#36C226"/><rect x="539" y="415" width="1" height="26" fill="#36C226"/><rect x="542" y="393" width="1" height="20" fill="#36C226"/><rect x="545" y="393" width="1" height="7" fill="#EC0A82"/><rect x="548" y="381" width="1" height="20" fill="#36C226"/><rect x="554" y="378" width="1" height="9" fill="#EC0A82"/><rect x="560" y="387" width="1" height="1" fill="#EC0A82"/><rect x="563" y="391" width="1" height="9" fill="#EC0A82"/><rect x="566" y="369" width="1" height="31" fill="#36C226"/><rect x="570" y="370" width="1" height="5" fill="#EC0A82"/><rect x="573" y="365" width="1" height="6" fill="#36C226"/><rect x="579" y="363" width="1" height="14" fill="#EC0A82"/><rect x="582" y="361" width="1" height="16" fill="#36C226"/><rect x="585" y="361" width="1" height="43" fill="#EC0A82"/><rect x="588" y="395" width="1" height="9" fill="#36C226"/><rect x="594" y="377" width="1" height="14" fill="#36C226"/><rect x="597" y="343" width="1" height="33" fill="#36C226"/><rect x="600" y="343" width="1" height="10" fill="#EC0A82"/><rect x="603" y="355" width="1" height="16" fill="#EC0A82"/><rect x="606" y="365" width="1" height="6" fill="#36C226"/><rect x="609" y="367" width="1" height="2" fill="#EC0A82"/><rect x="613" y="371" width="1" height="4" fill="#EC0A82"/><rect x="616" y="377" width="1" height="1" fill="#EC0A82"/><rect x="619" y="380" width="1" height="11" fill="#EC0A82"/><rect x="622" y="393" width="1" height="38" fill="#EC0A82"/><rect x="625" y="427" width="1" height="4" fill="#36C226"/><rect x="628" y="422" width="1" height="4" fill="#36C226"/><rect x="631" y="422" width="1" height="60" fill="#EC0A82"/><rect x="634" y="467" width="1" height="15" fill="#36C226"/><rect x="637" y="467" width="1" height="41" fill="#EC0A82"/><rect x="646" y="508" width="1" height="1" fill="#EC0A82"/><rect x="653" y="500" width="1" height="8" fill="#36C226"/><rect x="656" y="500" width="1" height="8" fill="#EC0A82"/><rect x="659" y="499" width="1" height="9" fill="#36C226"/><rect x="662" y="468" width="1" height="29" fill="#36C226"/><rect x="665" y="470" width="1" height="9" fill="#EC0A82"/><rect x="668" y="451" width="1" height="28" fill="#36C226"/><rect x="671" y="451" width="1" height="33" fill="#EC0A82"/><rect x="674" y="486" width="1" height="4" fill="#EC0A82"/><rect x="677" y="479" width="1" height="11" fill="#36C226"/><rect x="680" y="478" width="1" height="1" fill="#36C226"/><rect x="683" y="477" width="1" height="1" fill="#EC0A82"/><rect x="689" y="481" width="1" height="40" fill="#EC0A82"/><rect x="693" y="417" width="1" height="104" fill="#36C226"/><rect x="699" y="394" width="1" height="21" fill="#36C226"/><rect x="702" y="385" width="1" height="7" fill="#36C226"/><rect x="705" y="381" width="1" height="2" fill="#36C226"/><rect x="708" y="354" width="1" height="25" fill="#36C226"/><rect x="711" y="344" width="1" height="8" fill="#36C226"/><rect x="714" y="344" width="1" height="61" fill="#EC0A82"/><rect x="717" y="386" width="1" height="19" fill="#36C226"/><rect x="723" y="383" width="1" height="2" fill="#36C226"/><rect x="726" y="374" width="1" height="7" fill="#36C226"/><rect x="729" y="351" width="1" height="21" fill="#36C226"/><rect x="732" y="301" width="1" height="48" fill="#36C226"/><rect x="736" y="291" width="1" height="8" fill="#36C226"/><rect x="739" y="281" width="1" height="6" fill="#EC0A82"/><rect x="742" y="289" width="1" height="2" fill="#EC0A82"/><rect x="745" y="267" width="1" height="24" fill="#36C226"/><rect x="748" y="267" width="1" height="8" fill="#EC0A82"/><rect x="751" y="227" width="1" height="47" fill="#36C226"/><rect x="754" y="227" width="1" height="36" fill="#EC0A82"/><rect x="760" y="272" width="1" height="5" fill="#36C226"/><rect x="763" y="207" width="1" height="65" fill="#36C226"/><rect x="766" y="206" width="1" height="18" fill="#EC0A82"/><rect x="769" y="176" width="1" height="48" fill="#36C226"/><rect x="772" y="164" width="1" height="10" fill="#36C226"/><rect x="776" y="162" width="1" height="27" fill="#EC0A82"/><rect x="779" y="191" width="1" height="22" fill="#EC0A82"/><rect x="782" y="215" width="1" height="6" fill="#EC0A82"/><rect x="785" y="223" width="1" height="39" fill="#EC0A82"/><rect x="788" y="264" width="1" height="11" fill="#EC0A82"/><rect x="791" y="277" width="1" height="4" fill="#EC0A82"/><rect x="794" y="287" width="1" height="1" fill="#EC0A82"/><rect x="797" y="276" width="1" height="11" fill="#36C226"/><rect x="800" y="273" width="1" height="1" fill="#36C226"/><rect x="803" y="272" width="1" height="73" fill="#EC0A82"/><rect x="806" y="309" width="1" height="36" fill="#36C226"/><rect x="809" y="303" width="1" height="4" fill="#36C226"/><rect x="812" y="296" width="1" height="4" fill="#36C226"/><rect x="816" y="286" width="1" height="8" fill="#36C226"/><rect x="819" y="267" width="1" height="17" fill="#36C226"/><rect x="822" y="267" width="1" height="1" fill="#EC0A82"/><rect x="825" y="210" width="1" height="58" fill="#36C226"/><rect x="828" y="210" width="1" height="11" fill="#EC0A82"/><rect x="831" y="220" width="1" height="3" fill="#EC0A82"/><rect x="834" y="223" width="1" height="1" fill="#36C226"/><rect x="837" y="223" width="1" height="11" fill="#EC0A82"/><rect x="840" y="236" width="1" height="1" fill="#EC0A82"/><rect x="843" y="223" width="1" height="14" fill="#36C226"/><rect x="846" y="223" width="1" height="2" fill="#EC0A82"/><rect x="849" y="253" width="1" height="8" fill="#EC0A82"/><rect x="852" y="258" width="1" height="4" fill="#36C226"/><rect x="855" y="258" width="1" height="37" fill="#EC0A82"/><rect x="859" y="259" width="1" height="36" fill="#36C226"/><rect x="862" y="259" width="1" height="14" fill="#EC0A82"/><rect x="865" y="275" width="1" height="73" fill="#EC0A82"/><rect x="868" y="363" width="1" height="1" fill="#EC0A82"/><rect x="871" y="366" width="1" height="17" fill="#EC0A82"/><rect x="874" y="385" width="1" height="35" fill="#EC0A82"/><rect x="877" y="406" width="1" height="14" fill="#36C226"/><rect x="880" y="405" width="1" height="1" fill="#EC0A82"/><rect x="883" y="385" width="1" height="19" fill="#36C226"/><rect x="889" y="385" width="1" height="2" fill="#EC0A82"/><rect x="892" y="389" width="1" height="5" fill="#EC0A82"/><rect x="895" y="396" width="1" height="11" fill="#EC0A82"/><rect x="899" y="405" width="1" height="2" fill="#36C226"/><rect x="902" y="397" width="1" height="6" fill="#36C226"/><rect x="905" y="386" width="1" height="9" fill="#36C226"/><rect x="908" y="385" width="1" height="11" fill="#EC0A82"/><rect x="914" y="394" width="1" height="2" fill="#36C226"/><rect x="917" y="394" width="1" height="13" fill="#EC0A82"/><rect x="920" y="409" width="1" height="3" fill="#EC0A82"/><rect x="923" y="411" width="1" height="1" fill="#36C226"/><rect x="926" y="403" width="1" height="7" fill="#36C226"/><rect x="929" y="403" width="1" height="11" fill="#EC0A82"/><rect x="932" y="416" width="1" height="32" fill="#EC0A82"/><rect x="935" y="448" width="1" height="1" fill="#36C226"/><rect x="939" y="448" width="1" height="11" fill="#EC0A82"/><rect x="942" y="459" width="1" height="9" fill="#EC0A82"/><rect x="945" y="456" width="1" height="12" fill="#36C226"/><rect x="948" y="425" width="1" height="29" fill="#36C226"/><rect x="951" y="422" width="1" height="1" fill="#36C226"/><rect x="954" y="411" width="1" height="9" fill="#36C226"/><rect x="957" y="411" width="1" height="15" fill="#EC0A82"/><rect x="960" y="423" width="1" height="3" fill="#EC0A82"/><rect x="963" y="427" width="1" height="1" fill="#EC0A82"/><rect x="966" y="399" width="1" height="29" fill="#36C226"/><rect x="969" y="377" width="1" height="20" fill="#36C226"/><rect x="972" y="365" width="1" height="10" fill="#36C226"/><rect x="975" y="366" width="1" height="7" fill="#EC0A82"/><rect x="978" y="368" width="1" height="2" fill="#36C226"/><rect x="982" y="363" width="1" height="3" fill="#36C226"/><rect x="985" y="363" width="1" height="23" fill="#EC0A82"/><rect x="988" y="378" width="1" height="8" fill="#36C226"/><rect x="991" y="377" width="1" height="11" fill="#EC0A82"/><rect x="994" y="385" width="1" height="3" fill="#36C226"/><rect x="997" y="366" width="1" height="17" fill="#36C226"/><rect x="1000" y="358" width="1" height="6" fill="#36C226"/></g>
</g>
<g clip-path="url(#pane)" stroke="#000" stroke-width="2.7" stroke-linecap="round">
<line x1="31" y1="60.6" x2="1369" y2="216.8"/>
<line x1="338.3" y1="612.8" x2="1369" y2="369.5"/>
</g>
<path d="M1030.3,326.6 H1197.5 Q1208.5,326.6 1208.5,337.6 V388.2 Q1208.5,399.2 1197.5,399.2 H1031 L975,446 L1019.3,387 V337.6 Q1019.3,326.6 1030.3,326.6 Z" fill="rgba(48,119,241,0.70)" stroke="#2E6BE6" stroke-width="1.4" stroke-linejoin="round"/>
<text x="1034.4" y="357.9" font-size="20.3" fill="#fff" stroke="#fff" stroke-width="0.55" textLength="151" lengthAdjust="spacing">Triangle support</text>
<text x="1034.4" y="378.7" font-size="20.3" fill="#fff" stroke="#fff" stroke-width="0.55">bounce</text>
<rect x="15" y="6" width="1433" height="691.7" fill="none" stroke="#ECEEF2" stroke-width="1.7"/>
<line x1="1367.5" y1="6" x2="1367.5" y2="697" stroke="#555555" stroke-width="1"/>
<line x1="15" y1="650.5" x2="1448" y2="650.5" stroke="#555555" stroke-width="1"/>
<text x="1382.3" y="74.0" font-size="21.4" fill="#4a4a4a">80.00</text>
<text x="1382.3" y="144.1" font-size="21.4" fill="#4a4a4a">78.00</text>
<text x="1382.3" y="214.3" font-size="21.4" fill="#4a4a4a">76.00</text>
<text x="1382.3" y="284.4" font-size="21.4" fill="#4a4a4a">74.00</text>
<text x="1382.3" y="354.6" font-size="21.4" fill="#4a4a4a">72.00</text>
<text x="1382.3" y="424.7" font-size="21.4" fill="#4a4a4a">70.00</text>
<text x="1382.3" y="494.8" font-size="21.4" fill="#4a4a4a">68.00</text>
<text x="1382.3" y="565.0" font-size="21.4" fill="#4a4a4a">66.00</text>
<text x="1382.3" y="635.1" font-size="21.4" fill="#4a4a4a">64.00</text>
<path d="M1367.5,342.3 H1438.6 Q1441.6,342.3 1441.6,345.3 V369.7 Q1441.6,372.7 1438.6,372.7 H1367.5 Z" fill="#33BD21"/>
<text x="1382" y="364.7" font-size="21.4" fill="#fff" stroke="#fff" stroke-width="0.4" textLength="49.5" lengthAdjust="spacingAndGlyphs">71.71</text>
<text x="118.3" y="681.6" font-size="21.3" fill="#4a4a4a" text-anchor="middle">19</text>
<text x="296.3" y="681.6" font-size="21.3" fill="#4a4a4a" text-anchor="middle">Sep</text>
<text x="487.3" y="681.6" font-size="21.3" fill="#4a4a4a" text-anchor="middle">16</text>
<text x="689.5" y="681.6" font-size="21.3" fill="#4a4a4a" text-anchor="middle" stroke="#4a4a4a" stroke-width="0.35">Oct</text>
<text x="855.9" y="681.6" font-size="21.3" fill="#4a4a4a" text-anchor="middle">14</text>
<text x="1113.8" y="681.6" font-size="21.3" fill="#4a4a4a" text-anchor="middle" stroke="#4a4a4a" stroke-width="0.65">Nov</text>
<text x="1316.8" y="681.6" font-size="21.3" fill="#4a4a4a" text-anchor="middle">18</text>
<g fill="#131722">
<path d="M14.9,716 H27 V731.2 H20.4 V722 H14.9 Z"/>
<circle cx="31.9" cy="718.8" r="2.8"/>
<path d="M35.7,716 H44.4 L39,731.2 H31.9 Z"/>
</g>
<text x="49.6" y="731.6" font-size="19.6" fill="#131722" textLength="105" lengthAdjust="spacingAndGlyphs">TradingView</text>
</svg></body></html>
